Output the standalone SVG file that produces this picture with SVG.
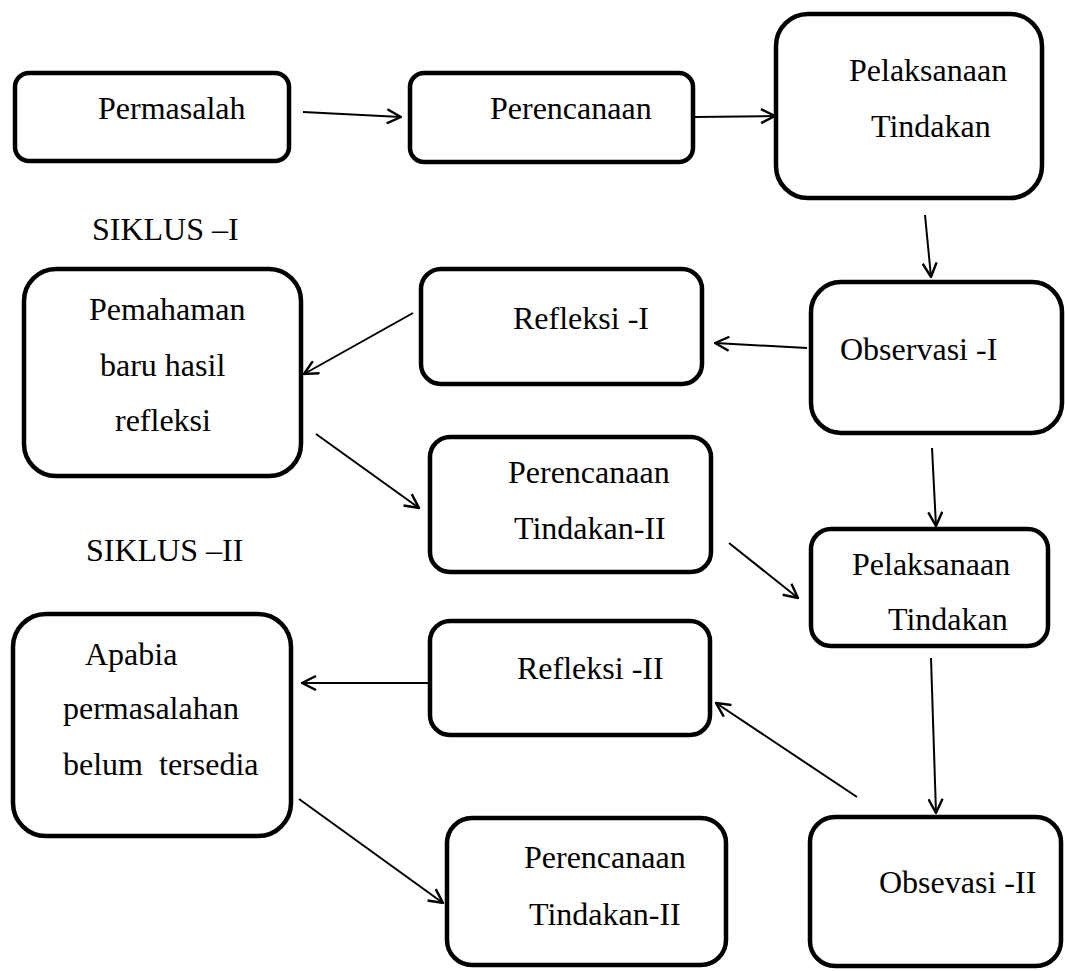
<svg xmlns="http://www.w3.org/2000/svg" width="1065" height="971" viewBox="0 0 1065 971">
  <style>
    .box { fill: #ffffff; stroke: #000000; stroke-width: 4.5; }
    .lbl { font-family: "Liberation Serif", "Times New Roman", serif; font-size: 32px; fill: #000000; }
    .conn { stroke: #000000; stroke-width: 2; fill: none; marker-end: url(#arrow); }
  </style>
  <defs>
    <marker id="arrow" viewBox="0 0 16 16" refX="15" refY="8" markerWidth="16" markerHeight="16" markerUnits="userSpaceOnUse" orient="auto">
      <path d="M1,1 L15,8 L1,15" fill="none" stroke="#000000" stroke-width="2.4"/>
    </marker>
  </defs>
  <rect width="1065" height="971" fill="#ffffff"/>

  <!-- cycle labels -->
  <text class="lbl" x="92" y="240">SIKLUS –I</text>
  <text class="lbl" x="86" y="561">SIKLUS –II</text>

  <g id="node-permasalah">
    <rect class="box" x="15" y="73" width="274" height="88" rx="14"/>
    <text class="lbl" x="98" y="119">Permasalah</text>
  </g>
  <g id="node-perencanaan">
    <rect class="box" x="410" y="73" width="283" height="89" rx="14"/>
    <text class="lbl" x="490" y="119">Perencanaan</text>
  </g>
  <g id="node-pelaksanaan-1">
    <rect class="box" x="776" y="14" width="266" height="184" rx="32"/>
    <text class="lbl" x="849" y="81">Pelaksanaan</text>
    <text class="lbl" x="871" y="137">Tindakan</text>
  </g>
  <g id="node-observasi-1">
    <rect class="box" x="811" y="282" width="251" height="151" rx="30"/>
    <text class="lbl" x="840" y="360">Observasi -I</text>
  </g>
  <g id="node-refleksi-1">
    <rect class="box" x="421" y="269" width="281" height="115" rx="20"/>
    <text class="lbl" x="513" y="329">Refleksi -I</text>
  </g>
  <g id="node-pemahaman">
    <rect class="box" x="24" y="269" width="277" height="207" rx="32"/>
    <text class="lbl" x="89" y="320">Pemahaman</text>
    <text class="lbl" x="100" y="376">baru hasil</text>
    <text class="lbl" x="115" y="431">refleksi</text>
  </g>
  <g id="node-perencanaan-2">
    <rect class="box" x="430" y="437" width="281" height="135" rx="20"/>
    <text class="lbl" x="508" y="483">Perencanaan</text>
    <text class="lbl" x="514" y="539">Tindakan-II</text>
  </g>
  <g id="node-pelaksanaan-2">
    <rect class="box" x="811" y="529" width="237" height="117" rx="20"/>
    <text class="lbl" x="852" y="575">Pelaksanaan</text>
    <text class="lbl" x="888" y="630">Tindakan</text>
  </g>
  <g id="node-refleksi-2">
    <rect class="box" x="430" y="621" width="280" height="114" rx="20"/>
    <text class="lbl" x="517" y="679">Refleksi -II</text>
  </g>
  <g id="node-apabia">
    <rect class="box" x="13" y="614" width="278" height="222" rx="33"/>
    <text class="lbl" x="85" y="665">Apabia</text>
    <text class="lbl" x="63" y="719">permasalahan</text>
    <text class="lbl" x="63" y="775" xml:space="preserve">belum  tersedia</text>
  </g>
  <g id="node-perencanaan-3">
    <rect class="box" x="447" y="818" width="279" height="147" rx="25"/>
    <text class="lbl" x="524" y="868">Perencanaan</text>
    <text class="lbl" x="529" y="925">Tindakan-II</text>
  </g>
  <g id="node-observasi-2">
    <rect class="box" x="810" y="817" width="251" height="149" rx="25"/>
    <text class="lbl" x="879" y="893">Obsevasi -II</text>
  </g>

  <g id="connectors">
    <line class="conn" x1="303" y1="112" x2="401" y2="117"/>
    <line class="conn" x1="695" y1="117" x2="775" y2="116"/>
    <line class="conn" x1="925" y1="215" x2="931" y2="277"/>
    <line class="conn" x1="807" y1="348" x2="715" y2="343"/>
    <line class="conn" x1="413" y1="313" x2="304" y2="374"/>
    <line class="conn" x1="316" y1="434" x2="419" y2="508"/>
    <line class="conn" x1="932" y1="448" x2="936" y2="526"/>
    <line class="conn" x1="729" y1="543" x2="798" y2="598"/>
    <line class="conn" x1="931" y1="658" x2="936" y2="813"/>
    <line class="conn" x1="857" y1="797" x2="716" y2="703"/>
    <line class="conn" x1="428" y1="683" x2="302" y2="683"/>
    <line class="conn" x1="299" y1="799" x2="443" y2="903"/>
  </g>
</svg>
